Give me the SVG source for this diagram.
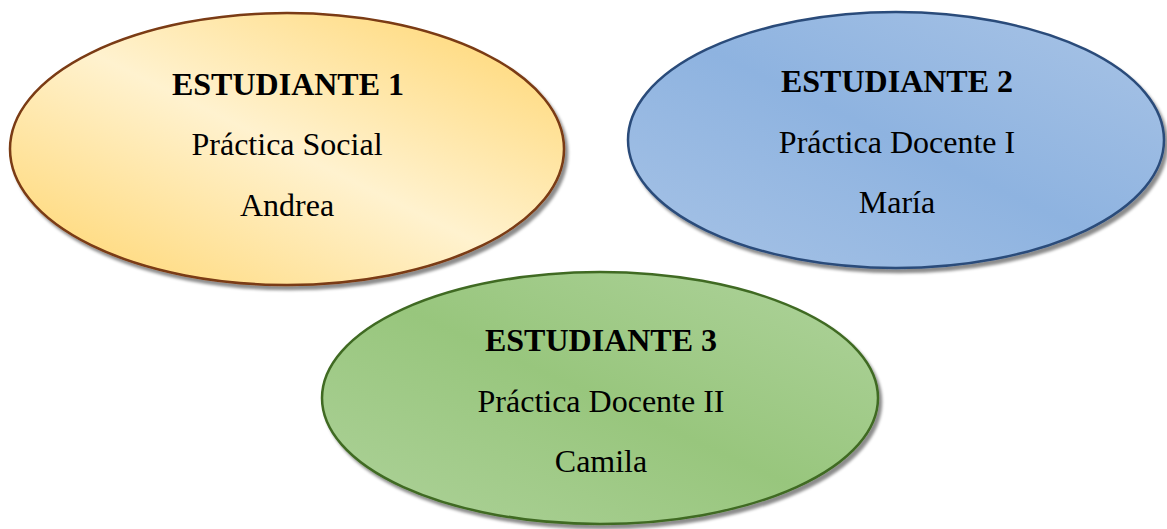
<svg xmlns="http://www.w3.org/2000/svg" width="1167" height="529" viewBox="0 0 1167 529">
<defs>
<linearGradient id="gOrange" x1="0" y1="1" x2="1" y2="0">
<stop offset="0" stop-color="#FFD46A"/>
<stop offset="0.5" stop-color="#FFF2CF"/>
<stop offset="1" stop-color="#FFD46A"/>
</linearGradient>
<linearGradient id="gBlue" x1="0" y1="1" x2="1" y2="0">
<stop offset="0" stop-color="#A7C3E6"/>
<stop offset="0.5" stop-color="#8EB3E0"/>
<stop offset="1" stop-color="#A9C4E6"/>
</linearGradient>
<linearGradient id="gGreen" x1="0" y1="1" x2="1" y2="0">
<stop offset="0" stop-color="#AED29A"/>
<stop offset="0.5" stop-color="#98C67D"/>
<stop offset="1" stop-color="#AFD39C"/>
</linearGradient>
<filter id="shadow" x="-10%" y="-10%" width="120%" height="125%">
<feDropShadow dx="3" dy="4" stdDeviation="1.5" flood-color="#000" flood-opacity="0.45"/>
</filter>
</defs>
<style>
.t{font-family:"Liberation Serif","Times New Roman",serif;font-size:32px;fill:#000;text-anchor:middle}
.b{font-weight:bold}
.e{stroke-width:2.5;filter:url(#shadow)}
</style>
<rect width="1167" height="529" fill="#fff"/>
<g id="connectors"></g>
<g id="node1">
<ellipse class="e" cx="287" cy="149" rx="277" ry="136" fill="url(#gOrange)" stroke="#7A3A12"/>
<text class="t b" x="288" y="95">ESTUDIANTE 1</text>
<text class="t" x="287" y="155">Práctica Social</text>
<text class="t" x="287" y="216">Andrea</text>
</g>
<g id="node2">
<ellipse class="e" cx="896" cy="140" rx="268" ry="128" fill="url(#gBlue)" stroke="#2B4C7A"/>
<text class="t b" x="897" y="92">ESTUDIANTE 2</text>
<text class="t" x="897" y="153">Práctica Docente I</text>
<text class="t" x="897" y="213">María</text>
</g>
<g id="node3">
<ellipse class="e" cx="600" cy="398" rx="278" ry="126" fill="url(#gGreen)" stroke="#3F6A24"/>
<text class="t b" x="601" y="351">ESTUDIANTE 3</text>
<text class="t" x="601" y="412">Práctica Docente II</text>
<text class="t" x="601" y="472">Camila</text>
</g>
</svg>
